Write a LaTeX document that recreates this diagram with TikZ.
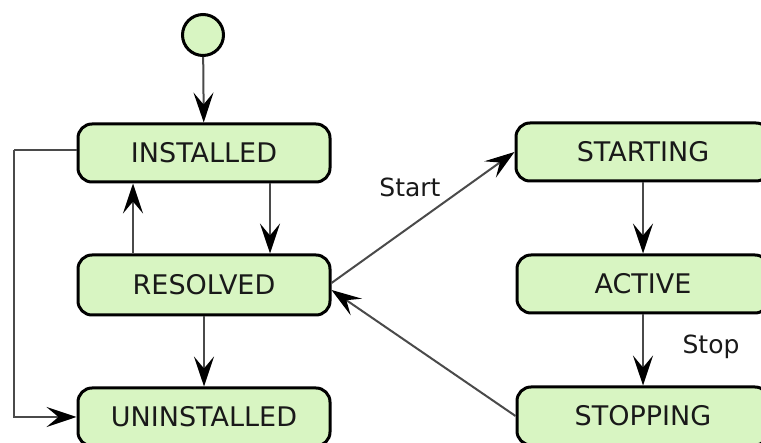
\documentclass[tikz,border=0pt]{standalone}
\usepackage{fontspec}
\setmainfont{DejaVu Sans}
\usetikzlibrary{arrows.meta}
\definecolor{stfill}{HTML}{D8F5C2}
\definecolor{lncol}{HTML}{4A4A4A}
\tikzset{
  state/.style={draw=black, line width=3pt, fill=stfill, rounded corners=14pt,
    minimum width=252pt, minimum height=58pt, inner sep=0pt,
    font=\fontsize{27}{30}\selectfont, text=black!90},
  initstate/.style={circle, draw=black, line width=3pt, fill=stfill, minimum size=41pt, inner sep=0pt},
  conn/.style={draw=lncol, line width=2pt, -{Stealth[length=30pt,width=20pt,inset=12pt,fill=black,color=black]}},
  plain/.style={draw=lncol, line width=2pt},
  lbl/.style={font=\fontsize{25}{28}\selectfont, text=black!90, inner sep=0pt}
}
\begin{document}
\begin{tikzpicture}[x=1pt,y=1pt]
\useasboundingbox (0,0) rectangle (761,-443);
\node[initstate] (init) at (203,-35) {};
\node[state] (inst) at (204,-153) {INSTALLED};
\node[state, minimum height=60pt] (res) at (204,-285) {RESOLVED};
\node[state] (unin) at (204,-417) {UNINSTALLED};
\node[state, minimum width=254pt] (sta) at (643,-152) {STARTING};
\node[state] (act) at (643,-284) {ACTIVE};
\node[state] (sto) at (643,-416) {STOPPING};
\coordinate (lp) at (14,-150);
\draw[conn] (init) -- (inst);
\draw[conn] ([xshift=66pt]inst.south) -- ([xshift=66pt]res.north);
\draw[conn] ([xshift=-71pt]res.north) -- ([xshift=-71pt]inst.south);
\draw[conn] (res) -- (unin);
\draw[plain] ([yshift=3pt]inst.west) -- (lp);
\draw[conn] (lp) |- (unin.west);
\draw[conn] ([yshift=2pt]res.east) -- (sta.west);
\draw[conn] (sto.west) -- ([yshift=-5pt]res.east);
\draw[conn] (sta) -- (act);
\draw[conn] (act) -- (sto);
\node[lbl] (lstart) at (410,-187) {Start};
\node[lbl] (lstop) at (711,-347) {Stop};
\end{tikzpicture}
\end{document}
